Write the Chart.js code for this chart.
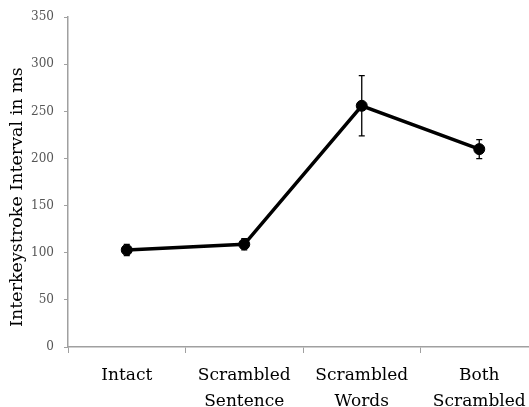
<!DOCTYPE html>
<html>
<head>
<meta charset="utf-8">
<script src="https://cdn.jsdelivr.net/npm/chart.js@4.4.1/dist/chart.umd.min.js"></script>
<style>
    html, body { margin: 0; padding: 0; background: #fff; overflow: hidden; }
    #wrap { width: 545px; height: 407px; }
</style>
</head>
<body>
<div id="wrap"><canvas id="chart"></canvas></div>
<script>
// Data
const conditions = [['Intact'], ['Scrambled', 'Sentence'], ['Scrambled', 'Words'], ['Both', 'Scrambled']];
const meanInterval = [103, 109, 256, 210];
const errorMargin = [6, 6, 32, 10];
const yTicks = [0, 50, 100, 150, 200, 250, 300, 350];
const yTitle = 'Interkeystroke Interval in ms';

const axisGrey = '#a0a0a0';
const serif = "'DejaVu Serif', serif";

// Error bars drawn from the y scale
const errorBars = {
    id: 'errorBars',
    afterDatasetsDraw(chart) {
        const { ctx, scales: { y } } = chart;
        const meta = chart.getDatasetMeta(0);
        ctx.save();
        ctx.strokeStyle = '#000';
        ctx.lineWidth = 1.3;
        meta.data.forEach((pt, i) => {
            const top = y.getPixelForValue(meanInterval[i] + errorMargin[i]);
            const bottom = y.getPixelForValue(meanInterval[i] - errorMargin[i]);
            const x = pt.x;
            ctx.beginPath();
            ctx.moveTo(x, top); ctx.lineTo(x, bottom);
            ctx.moveTo(x - 3, top); ctx.lineTo(x + 3, top);
            ctx.moveTo(x - 3, bottom); ctx.lineTo(x + 3, bottom);
            ctx.stroke();
        });
        ctx.restore();
    }
};

// Y axis title, sat a little below the middle like the original
const axisTitle = {
    id: 'axisTitle',
    afterDraw(chart) {
        const { ctx, chartArea } = chart;
        ctx.save();
        ctx.translate(17.5, chartArea.top + (chartArea.bottom - chartArea.top) / 2 + 15);
        ctx.rotate(-Math.PI / 2);
        ctx.font = "17.5px " + serif;
        ctx.fillStyle = '#000';
        ctx.textAlign = 'center';
        ctx.textBaseline = 'middle';
        ctx.fillText(yTitle, 0, 0);
        ctx.restore();
    }
};

new Chart(document.getElementById('chart'), {
    type: 'line',
    data: {
        labels: conditions,
        datasets: [{
            data: meanInterval,
            borderColor: '#000',
            backgroundColor: '#000',
            borderWidth: 3.5,
            pointRadius: 5.5,
            pointBorderWidth: 1,
            pointHoverRadius: 5.5,
            tension: 0
        }]
    },
    options: {
        responsive: true,
        maintainAspectRatio: false,
        animation: false,
        layout: { padding: { top: 16, right: 7, left: 0, bottom: 0 } },
        plugins: {
            legend: { display: false },
            tooltip: { enabled: false }
        },
        scales: {
            x: {
                offset: true,
                grid: {
                    offset: true,
                    drawOnChartArea: false,
                    tickLength: 6,
                    color: axisGrey
                },
                border: { color: axisGrey, width: 1.5 },
                ticks: {
                    color: '#000',
                    padding: 10,
                    maxRotation: 0,
                    font: { family: serif, size: 17, lineHeight: 1.5 }
                },
                afterFit: s => { s.height = 60; }
            },
            y: {
                min: 0,
                max: 350,
                afterBuildTicks: s => { s.ticks = yTicks.map(v => ({ value: v })); },
                grid: {
                    drawOnChartArea: false,
                    tickLength: 4,
                    color: axisGrey
                },
                border: { color: axisGrey, width: 1.5 },
                ticks: {
                    color: '#555',
                    padding: 10,
                    font: { family: serif, size: 12 }
                },
                afterFit: s => { s.width = 68; }
            }
        }
    },
    plugins: [errorBars, axisTitle]
});
</script>
</body>
</html>
